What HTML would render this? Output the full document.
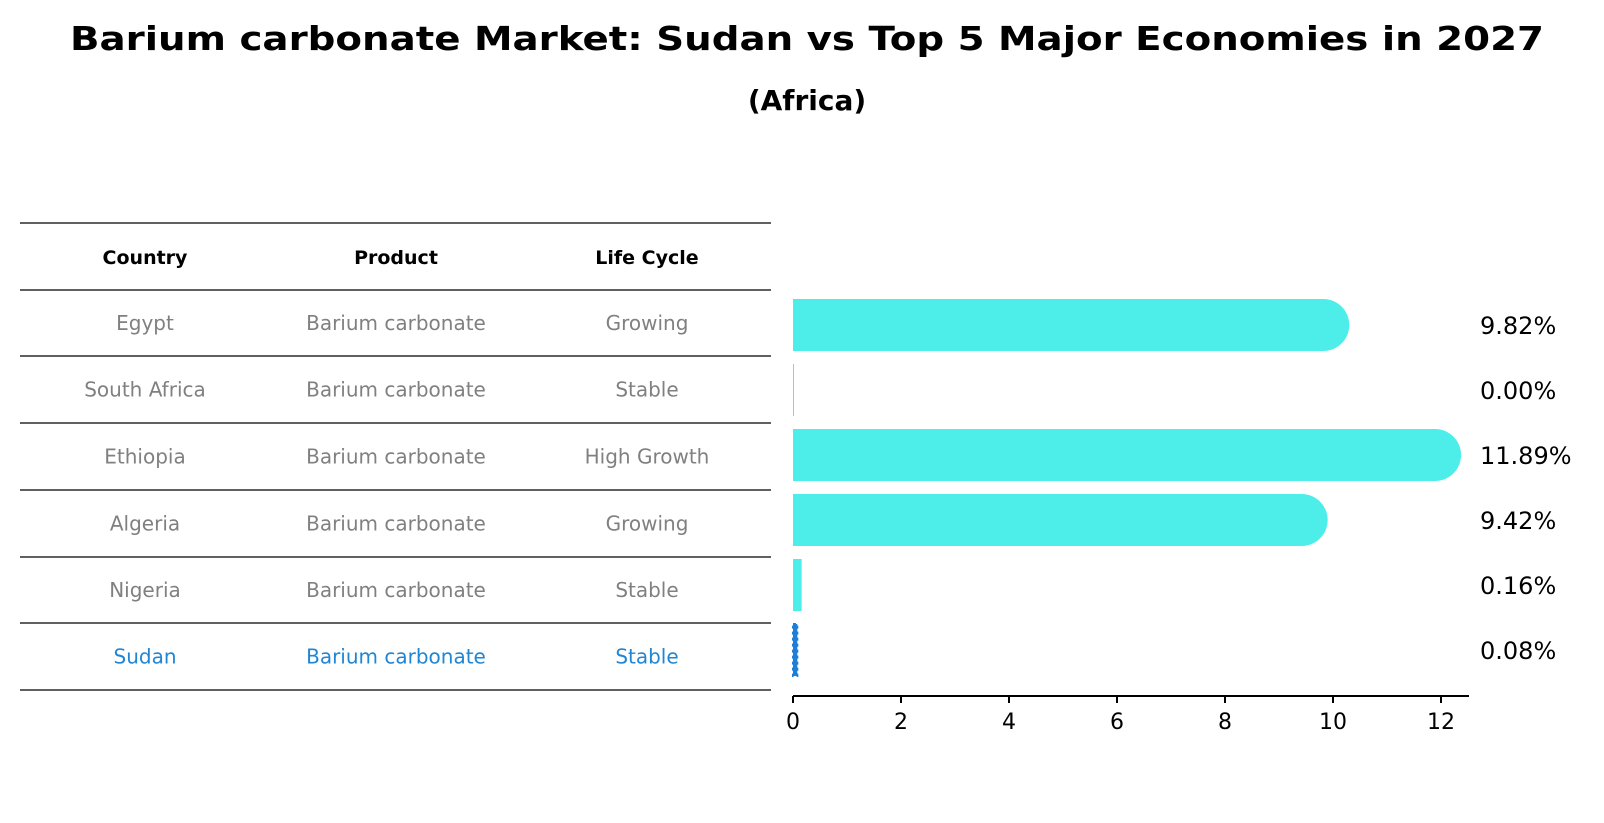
<!DOCTYPE html>
<html><head><meta charset="utf-8"><style>
body{margin:0;background:#fff;}
svg{display:block;font-family:"DejaVu Sans","Liberation Sans",sans-serif;}
</style></head><body>
<svg id="chart" width="1604" height="823" viewBox="0 0 1604 823" xmlns="http://www.w3.org/2000/svg">
<text x="807" y="50" text-anchor="middle" font-size="33" font-weight="bold" textLength="1474" lengthAdjust="spacingAndGlyphs">Barium carbonate Market: Sudan vs Top 5 Major Economies in 2027</text>
<text x="807" y="110" text-anchor="middle" font-size="28" font-weight="bold">(Africa)</text>
<g id="table"></g>
<g id="bars"></g>
</svg>
<script>
const countries = ["Egypt","South Africa","Ethiopia","Algeria","Nigeria","Sudan"];
const products = ["Barium carbonate","Barium carbonate","Barium carbonate","Barium carbonate","Barium carbonate","Barium carbonate"];
const lifeCycles = ["Growing","Stable","High Growth","Growing","Stable","Stable"];
const values = [9.82, 0.00, 11.89, 9.42, 0.16, 0.08];
const valueLabels = ["9.82%","0.00%","11.89%","9.42%","0.16%","0.08%"];
const xTicks = [0,2,4,6,8,10,12];
const highlight = "Sudan";

const NS="http://www.w3.org/2000/svg";
function mk(tag,attrs,parent){const e=document.createElementNS(NS,tag);for(const k in attrs)e.setAttribute(k,attrs[k]);parent.appendChild(e);return e;}

// table
const tbl=document.getElementById('table');
const lineYs=[223,290,356,423,490,557,623,690];
const colX=[145,396,647];
const headers=["Country","Product","Life Cycle"];
lineYs.forEach((y,i)=>{
  const l=mk('line',{x1:20,x2:771,y1:y,y2:y,stroke:'#000','stroke-width':1.2},tbl);
  
  
});
headers.forEach((h,i)=>{
  const t=mk('text',{x:colX[i],y:264,'text-anchor':'middle','font-size':19,'font-weight':'bold',fill:'#000'},tbl);
  t.textContent=h;
  
  
});
countries.forEach((c,r)=>{
  const cy=(lineYs[r+1]+lineYs[r+2])/2+7;
  const col=c===highlight?'#1f86d6':'#808080';
  [c,products[r],lifeCycles[r]].forEach((v,i)=>{
    const t=mk('text',{x:colX[i],y:cy,'text-anchor':'middle','font-size':20,fill:col},tbl);
    t.textContent=v;
    
    
  });
});

// bar chart
const g=document.getElementById('bars');
const x0=793, pxPerUnit=54, axisY=696, rowTop=325, rowStep=65, barH=52;
const xs=v=>x0+v*pxPerUnit;
const ys=i=>rowTop+i*rowStep;
values.forEach((v,i)=>{
  const cy=ys(i), x1=xs(v), r=barH/2;
  let el;
  if(countries[i]===highlight){
    el=mk('rect',{x:x0,y:cy-barH/2,width:Math.max(x1-x0,3),height:barH,fill:'#1f7fd6',stroke:'#1f7fd6','stroke-width':2,'stroke-dasharray':'3 3'},g);
  } else if(v>1){
    el=mk('path',{d:`M${x0},${cy-r} L${x1},${cy-r} A${r},${r} 0 0 1 ${x1},${cy+r} L${x0},${cy+r} Z`,fill:'#4deeea'},g);
  } else {
    el=mk('rect',{x:x0,y:cy-barH/2,width:Math.max(x1-x0,1),height:barH,fill:'#4deeea'},g);
  }
  
  
  const t=mk('text',{x:1480,y:cy+9,'font-size':24,fill:'#000'},g);
  t.textContent=valueLabels[i];
  
  
});
const ax=mk('line',{x1:x0,x2:1469,y1:axisY,y2:axisY,stroke:'#000','stroke-width':2},g);


xTicks.forEach(v=>{
  const tk=mk('line',{x1:xs(v),x2:xs(v),y1:axisY,y2:axisY+7,stroke:'#000','stroke-width':2},g);
  
  
  const t=mk('text',{x:xs(v),y:axisY+33,'text-anchor':'middle','font-size':22,fill:'#000'},g);
  t.textContent=v;
  
  
});
</script>
</body></html>
